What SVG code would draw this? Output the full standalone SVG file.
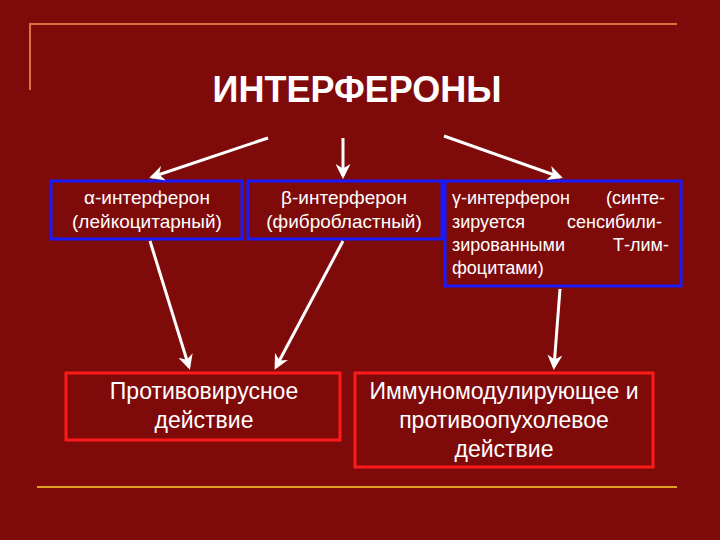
<svg xmlns="http://www.w3.org/2000/svg" width="720" height="540" viewBox="0 0 720 540">
<style>
.t{font-family:"Liberation Sans",Arial,sans-serif;fill:#fff}
.s{font-size:19px}
.g{font-size:18px}
.big{font-size:23px}
.b{fill:none;stroke:#1a1aff;stroke-width:3}
.r{fill:none;stroke:#ff1a1a;stroke-width:3}
.c line{stroke:#fff;stroke-width:3;marker-end:url(#a)}
</style>
<defs><marker id="a" viewBox="0 0 10 10" refX="8" refY="5" markerWidth="5" markerHeight="5" orient="auto"><path d="M0,0L10,5L0,10L3,5Z" fill="#fff"/></marker></defs>
<rect width="720" height="540" fill="#7f0a0a"/>
<path d="M30,90V24H677" fill="none" stroke="#e07040" stroke-width="2"/>
<path d="M37,487H677" stroke="#e0a020" stroke-width="2"/>
<g id="title"><text class="t" x="357" y="102" font-size="36" font-weight="bold" text-anchor="middle">ИНТЕРФЕРОНЫ</text></g>
<g id="alpha"><rect class="b" x="51" y="181" width="191" height="58"/><text class="t s" text-anchor="middle"><tspan x="147" y="204">α-интерферон</tspan><tspan x="147" y="228">(лейкоцитарный)</tspan></text></g>
<g id="beta"><rect class="b" x="248" y="181" width="194" height="58"/><text class="t s" text-anchor="middle"><tspan x="344" y="204">β-интерферон</tspan><tspan x="344" y="228">(фибробластный)</tspan></text></g>
<g id="gamma"><rect class="b" x="445" y="181" width="236" height="105"/><text class="t g"><tspan x="452" y="204">γ-интерферон</tspan><tspan x="606" y="204">(синте-</tspan><tspan x="452" y="228">зируется</tspan><tspan x="567" y="228">сенсибили-</tspan><tspan x="452" y="251">зированными</tspan><tspan x="613" y="251">Т-лим-</tspan><tspan x="452" y="274">фоцитами)</tspan></text></g>
<g id="antiviral"><rect class="r" x="66" y="373" width="274" height="67"/><text class="t big" text-anchor="middle"><tspan x="204" y="399">Противовирусное</tspan><tspan x="204" y="428">действие</tspan></text></g>
<g id="immuno"><rect class="r" x="355" y="373" width="298" height="94"/><text class="t big" text-anchor="middle"><tspan x="504" y="399">Иммуномодулирующее и</tspan><tspan x="504" y="428">противоопухолевое</tspan><tspan x="504" y="457">действие</tspan></text></g>
<g class="c">
<line x1="268" y1="138" x2="152" y2="177"/>
<line x1="343" y1="138" x2="343" y2="176"/>
<line x1="444" y1="136" x2="560" y2="177"/>
<line x1="150" y1="241" x2="189" y2="367"/>
<line x1="343" y1="241" x2="276" y2="367"/>
<line x1="560" y1="289" x2="554" y2="367"/>
</g>
</svg>
